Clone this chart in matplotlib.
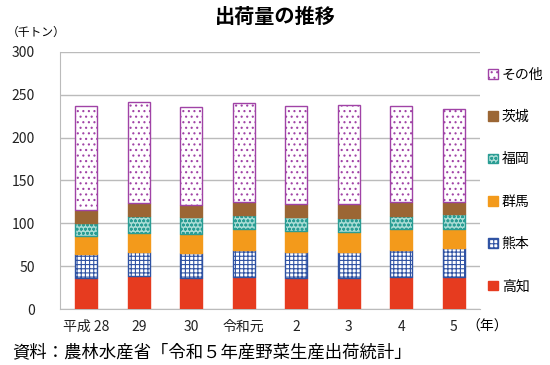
import matplotlib
matplotlib.use("Agg")
import matplotlib.pyplot as plt
import numpy as np

plt.rcParams['font.family'] = ['Noto Sans CJK JP', 'DejaVu Sans']
plt.rcParams['hatch.linewidth'] = 0.8

years = ["平成 28", "29", "30", "令和元", "2", "3", "4", "5"]
kochi = [36, 39, 36, 37.5, 36, 36, 37.5, 37]
kumamoto = [28, 28, 29, 32, 31, 30.5, 31.5, 34]
gunma = [21, 22, 22.5, 23.5, 24, 23.5, 24, 23]
fukuoka = [16, 19.5, 19.5, 16.5, 16, 16, 16, 16.5]
ibaraki = [14.5, 15.5, 15, 15, 16, 17, 16, 14.5]
others = [121.5, 117, 114, 115.5, 114, 115, 112, 108]

series = [
    ("高知", kochi, dict(facecolor="#e63b1f", edgecolor="#e63b1f", hatch=None)),
    ("熊本", kumamoto, dict(facecolor="white", edgecolor="#2f52a3", hatch="++++")),
    ("群馬", gunma, dict(facecolor="#f39a1b", edgecolor="#f39a1b", hatch=None)),
    ("福岡", fukuoka, dict(facecolor="#a9dcd5", edgecolor="#2a9d94", hatch="oooo")),
    ("茨城", ibaraki, dict(facecolor="#9b6634", edgecolor="#9b6634", hatch=None)),
    ("その他", others, dict(facecolor="white", edgecolor="#a043a6", hatch="...")),
]

fig = plt.figure(figsize=(5.5, 3.65), dpi=100)
ax = fig.add_axes([0.109, 0.153, 0.764, 0.705])

x = np.arange(len(years))
bottom = np.zeros(len(years))
handles = []
for name, vals, st in series:
    b = ax.bar(x, vals, width=0.42, bottom=bottom, label=name,
               facecolor=st["facecolor"], edgecolor=st["edgecolor"],
               hatch=st["hatch"], linewidth=1.0, zorder=3)
    handles.append(b)
    bottom = bottom + np.array(vals)

ax.set_xlim(-0.5, len(years) - 0.5)
ax.set_ylim(0, 300)
ax.set_yticks(np.arange(0, 301, 50))
ax.yaxis.grid(True, color="#bbbbbb", linewidth=1.0, zorder=0)
ax.set_axisbelow(True)
for s in ["top", "right"]:
    ax.spines[s].set_visible(False)
ax.spines["left"].set_color("#bbbbbb")
ax.spines["bottom"].set_color("#bbbbbb")
ax.tick_params(axis="both", length=0, labelsize=10, colors="#222222")
ax.tick_params(axis="y", pad=18)
ax.tick_params(axis="x", pad=8)
ax.set_xticks(x)
ax.set_xticklabels(years)

fig.text(0.5, 0.955, "出荷量の推移", ha="center", va="center", fontsize=14.5, fontweight="bold")
fig.text(0.065, 0.912, "（千トン）", ha="center", va="center", fontsize=8.5)
fig.text(0.885, 0.105, "（年）", ha="center", va="center", fontsize=10)
fig.text(0.022, 0.035, "資料：農林水産省「令和５年産野菜生産出荷統計」", ha="left", va="center", fontsize=12.5)

leg = ax.legend(handles[::-1], [s[0] for s in series][::-1],
                loc="upper left", bbox_to_anchor=(1.005, 0.96),
                frameon=False, fontsize=10, handlelength=0.7, handleheight=0.7,
                handletextpad=0.3, labelspacing=2.04, borderaxespad=0)

fig.savefig("out.png", dpi=100)
